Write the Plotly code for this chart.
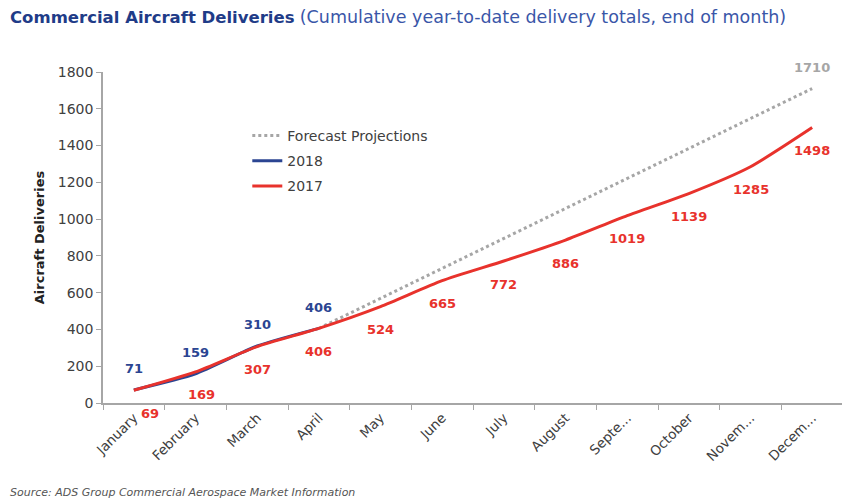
import plotly.graph_objects as go

months = ["January", "February", "March", "April", "May", "June", "July",
          "August", "September", "October", "November", "December"]
tick_labels = ["January", "February", "March", "April", "May", "June", "July",
               "August", "Septe...", "October", "Novem...", "Decem..."]
deliveries_2017 = [69, 169, 307, 406, 524, 665, 772, 886, 1019, 1139, 1285, 1498]
deliveries_2018 = [71, 159, 310, 406, None, None, None, None, None, None, None, None]
forecast = [None, None, None, 406, None, None, None, None, None, None, None, 1710]

BLUE = "#2b4592"
RED = "#e8322c"
GRAY = "#a6a6a6"
FONT = "DejaVu Sans, Verdana, sans-serif"

fig = go.Figure()
fig.add_trace(go.Scatter(x=months, y=forecast, name="Forecast Projections", mode="lines",
                         connectgaps=True, legendgroup="f",
                         line=dict(color=GRAY, width=3, dash="dot")))
fig.add_trace(go.Scatter(x=months, y=deliveries_2018, name="2018", mode="lines", legendgroup="b",
                         line=dict(color=BLUE, width=3, shape="spline", smoothing=0.6)))
fig.add_trace(go.Scatter(x=months, y=deliveries_2017, name="2017", mode="lines", legendgroup="r",
                         line=dict(color=RED, width=3, shape="spline", smoothing=0.6)))

red_xshift = [16, 6, 0, 0, 0, 0, 0, 0, 0, 0, 0, 0]
annotations = []
for m, v, xs in zip(months, deliveries_2017, red_xshift):
    annotations.append(dict(x=m, y=v, text=f"<b>{v}</b>", showarrow=False, yshift=-23, xshift=xs,
                            font=dict(family=FONT, size=13, color=RED)))
for m, v in zip(months, deliveries_2018):
    if v is not None:
        annotations.append(dict(x=m, y=v, text=f"<b>{v}</b>", showarrow=False, yshift=21,
                                font=dict(family=FONT, size=13, color=BLUE)))
annotations.append(dict(x=months[-1], y=forecast[-1], text=f"<b>{forecast[-1]}</b>",
                        showarrow=False, yshift=21, font=dict(family=FONT, size=13, color=GRAY)))

annotations.append(dict(xref="paper", yref="paper", x=-0.128, y=1.166, xanchor="left", yanchor="middle",
                        showarrow=False,
                        text="<b>Commercial Aircraft Deliveries</b> <span style='color:#3a56a8;font-size:17.5px'>(Cumulative year-to-date delivery totals, end of month)</span>",
                        font=dict(family=FONT, size=16.5, color="#1f3c88")))
annotations.append(dict(xref="paper", yref="paper", x=-0.128, y=-0.269, xanchor="left", yanchor="middle",
                        showarrow=False,
                        text="<i>Source: ADS Group Commercial Aerospace Market Information</i>",
                        font=dict(family=FONT, size=11, color="#555555")))

fig.update_layout(
    width=842, height=492,
    margin=dict(l=95, r=7, t=64, b=97),
    paper_bgcolor="white", plot_bgcolor="white",
    font=dict(family=FONT, size=14, color="#404040"),
    showlegend=True,
    legend=dict(x=0.195, y=0.855, xanchor="left", yanchor="top", bgcolor="rgba(0,0,0,0)",
                font=dict(family=FONT, size=14, color="#404040"), tracegroupgap=4,
                traceorder="grouped"),
    annotations=annotations,
)
fig.update_xaxes(type="category", categoryorder="array", categoryarray=months,
                 tickmode="array", tickvals=months, ticktext=tick_labels, automargin=False,
                 tickangle=-45, range=[-0.5, 11.5], showgrid=False, showline=True,
                 linecolor="#a6a6a6", linewidth=1.5, ticks="outside", tickson="boundaries",
                 ticklen=5, tickcolor="#a6a6a6", tickfont=dict(size=13.5, color="#404040"))
fig.update_yaxes(range=[0, 1800], dtick=200, showgrid=False, showline=True, zeroline=False,
                 automargin=False,
                 linecolor="#a6a6a6", linewidth=1.5, ticks="outside", ticklen=5, tickcolor="#a6a6a6",
                 tickfont=dict(size=14, color="#404040"),
                 title=dict(text="<b>Aircraft Deliveries</b>", font=dict(size=13, color="#222222"), standoff=10))

fig.write_html("out.html")
